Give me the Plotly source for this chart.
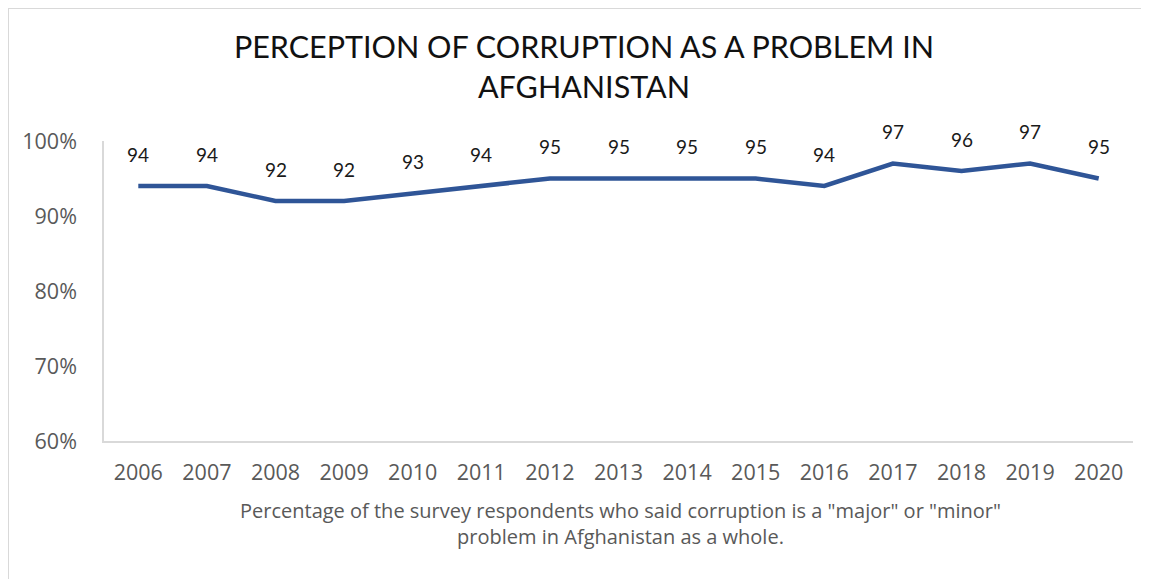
import plotly.graph_objects as go

years = ["2006", "2007", "2008", "2009", "2010", "2011", "2012", "2013",
         "2014", "2015", "2016", "2017", "2018", "2019", "2020"]
values = [94, 94, 92, 92, 93, 94, 95, 95, 95, 95, 94, 97, 96, 97, 95]
y_ticks = [60, 70, 80, 90, 100]
y_tick_labels = ["60%", "70%", "80%", "90%", "100%"]

title_text = "PERCEPTION OF CORRUPTION AS A PROBLEM IN<br>AFGHANISTAN"
caption = ('Percentage of the survey respondents who said corruption is a "major" or "minor"'
           '<br>problem in Afghanistan as a whole.')

fig = go.Figure()
fig.add_trace(go.Scatter(
    x=list(range(len(years))), y=values, mode="lines",
    line=dict(color="#2F5597", width=4.5),
    hoverinfo="skip", showlegend=False,
))

for i, v in enumerate(values):
    fig.add_annotation(x=i, y=v, text=str(v), showarrow=False, yshift=32,
                       font=dict(family="Lato", size=19, color="#1a1a1a"))

fig.add_annotation(xref="paper", yref="paper", x=0.5015, y=-0.18, yanchor="top",
                   text=caption, showarrow=False, align="center",
                   font=dict(family="Open Sans", size=20, color="#595959"))

# partial outer frame (top and left edges)
fig.add_shape(type="line", xref="paper", yref="paper",
              x0=-0.0933, x1=1.03, y0=1.4433, y1=1.4433,
              line=dict(color="#d9d9d9", width=2))
fig.add_shape(type="line", xref="paper", yref="paper",
              x0=-0.0933, x1=-0.0933, y0=-0.5, y1=1.4433,
              line=dict(color="#d9d9d9", width=2))

fig.update_layout(
    width=1141, height=571,
    margin=dict(l=96, r=16, t=133, b=138),
    paper_bgcolor="white", plot_bgcolor="white",
    title=dict(text=title_text, x=0.5048, xanchor="center", y=0.9125, yanchor="top",
               font=dict(family="Lato", size=30.5, color="#111111")),
    xaxis=dict(type="linear", range=[-0.5, 14.5], showgrid=False,
               tickvals=list(range(len(years))), ticktext=years,
               showline=True, linecolor="#d9d9d9", linewidth=1.5, zeroline=False,
               ticks="", tickfont=dict(family="Open Sans", size=21.5, color="#595959"),
               ticklabelstandoff=11, fixedrange=True, automargin=False),
    yaxis=dict(range=[60, 100], tickvals=y_ticks, ticktext=y_tick_labels,
               showgrid=False, showline=True, linecolor="#d9d9d9", linewidth=1.5,
               zeroline=False, ticks="",
               tickfont=dict(family="Open Sans", size=21.5, color="#595959"),
               ticklabelstandoff=21, fixedrange=True, automargin=False),
)

fig.write_html("out.html")
